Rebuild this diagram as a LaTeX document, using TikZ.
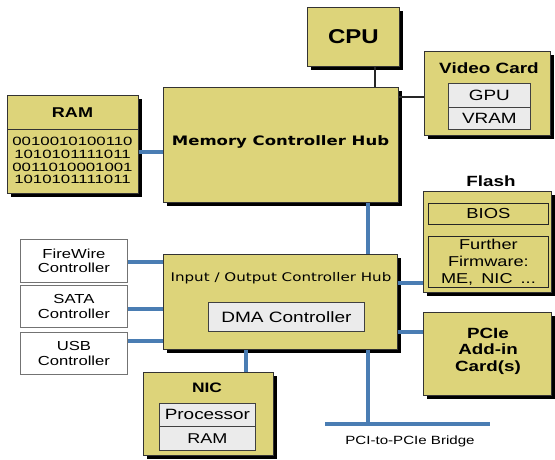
\documentclass[tikz,border=0pt]{standalone}
\usepackage{fontspec}
\setmainfont{Liberation Sans}[FakeStretch=1.27]
\newfontfamily\binfont{Liberation Sans}[FakeStretch=1.4]
\newfontfamily\cpuf{Liberation Sans}[FakeStretch=1.2]
\newfontfamily\dvs{DejaVu Sans}[FakeStretch=1.27]
\definecolor{boxyellow}{HTML}{DDD47A}
\definecolor{busblue}{HTML}{4A7DB3}
\definecolor{innergray}{HTML}{EBEBEB}
\newcommand{\fs}[1]{\fontsize{#1}{#1}\selectfont}
\newcommand{\fss}[2]{\fontsize{#1}{#2}\selectfont}
\begin{document}
\begin{tikzpicture}[x=1pt,y=-1pt,
  ybox/.style={fill=boxyellow,draw=black!80,line width=0.8pt,anchor=north west},
  shad/.style={fill=black},
  gbox/.style={fill=innergray,draw=black!75,line width=0.8pt,anchor=north west,inner sep=0pt},
  obox/.style={draw=black!85,line width=0.8pt,anchor=north west,inner sep=0pt},
  wbox/.style={fill=white,draw=black!55,line width=0.8pt,anchor=north west,inner sep=0pt,align=center,font=\fss{13.1}{14.5}},
  bus/.style={draw=busblue,line width=4.5pt},
  blk/.style={draw=black!85,line width=2.5pt},
  lbl/.style={inner sep=0pt,align=center}]
\useasboundingbox (0,0) rectangle (555,459);
% shadows
\foreach \a/\b/\c/\d in {307/7/399/66, 163/87/398/202, 424/51/550/135, 7/95/138/193, 163/254/397/349, 423/191/551/292, 143/372/273/455, 423/312/551/395}
  \fill[shad] (\a+4,\b+4) rectangle (\c+4,\d+4);
% CPU
\node[ybox,minimum width=92pt,minimum height=59pt] (cpu) at (307,7) {};
\node[lbl,font=\cpuf\bfseries\fs{20}] (cput) at (cpu.center) {CPU};
% MCH
\node[ybox,minimum width=235pt,minimum height=115pt] (mch) at (163,87) {};
\node[lbl,font=\dvs\bfseries\fs{13}] (mcht) at (280.5,142) {Memory Controller Hub};
% Video card
\node[ybox,minimum width=126pt,minimum height=84pt] (vid) at (424,51) {};
\node[lbl,font=\bfseries\fs{14.9}] (vidt) at (489,68) {Video Card};
\node[gbox,minimum width=82pt,minimum height=24pt,font=\fs{14.9}] (gpu) at (448,83) {GPU};
\node[gbox,minimum width=82pt,minimum height=22pt,font=\fs{14.9}] (vram) at (448,107) {VRAM};
% RAM
\node[ybox,minimum width=131pt,minimum height=98pt] (ram) at (7,95) {};
\draw[black!80,line width=0.8pt] (ram.west |- 0,129) -- (ram.east |- 0,129);
\node[lbl,font=\bfseries\fs{14.2}] (ramt) at (72.5,113) {RAM};
\node[lbl,font=\binfont\fss{12}{12.9}] (bits) at (72.5,160.5) {0010010100110\\1010101111011\\0011010001001\\1010101111011};
% ICH
\node[ybox,minimum width=234pt,minimum height=95pt] (ich) at (163,254) {};
\node[lbl,font=\dvs\fs{11.9}] (icht) at (281,278) {Input / Output Controller Hub};
\node[gbox,minimum width=156pt,minimum height=29pt,font=\fs{15}] (dma) at (208,302) {DMA Controller};
% Flash
\node[lbl,font=\bfseries\fs{14.8}] (flasht) at (491,181) {Flash};
\node[ybox,minimum width=128pt,minimum height=101pt] (flash) at (423,191) {};
\node[obox,minimum width=120pt,minimum height=21pt,font=\fs{14.5}] (bios) at (428,203) {BIOS};
\node[obox,minimum width=120pt,minimum height=51pt,align=center,font=\fss{14.3}{17}] (fw) at (428,236) {Further\\Firmware:\\ME,\hspace{3pt} NIC\hspace{3pt} ...};
% White controllers
\node[wbox,minimum width=107pt,minimum height=43pt] (fwc) at (20,239) {FireWire\\Controller};
\node[wbox,minimum width=107pt,minimum height=42pt] (sata) at (20,285) {SATA\\Controller};
\node[wbox,minimum width=107pt,minimum height=42pt] (usb) at (20,332) {USB\\Controller};
% NIC
\node[ybox,minimum width=130pt,minimum height=83pt] (nic) at (143,372) {};
\node[lbl,font=\bfseries\fs{13.7}] (nict) at (207,388) {NIC};
\node[gbox,minimum width=96pt,minimum height=23pt,font=\fs{14.9}] (proc) at (159,403) {Processor};
\node[gbox,minimum width=96pt,minimum height=24pt,font=\fs{14.2}] (nram) at (159,426) {RAM};
% PCIe
\node[ybox,minimum width=128pt,minimum height=83pt] (pcie) at (423,312) {};
\node[lbl,font=\bfseries\fss{14.8}{16.5}] (pciet) at (488,351) {PCIe\\Add-in\\Card(s)};
% bridge
\coordinate (brL) at (325,424);
\coordinate (brR) at (490,424);
\coordinate (brM) at (368,424);
\node[lbl,font=\fs{11.9}] (brlbl) at (410,441) {PCI-to-PCIe Bridge};
% connectors
\draw[blk] (cpu.south -| 375,0) -- (mch.north -| 375,0);
\draw[blk] (mch.east |- 0,97) -- (vid.west |- 0,97);
\draw[bus] (ram.east |- 0,152) -- (mch.west |- 0,152);
\draw[bus] (mch.south -| 368,0) -- (ich.north -| 368,0);
\draw[bus] (ich.east |- 0,283) -- (flash.west |- 0,283);
\draw[bus] (ich.east |- 0,332) -- (pcie.west |- 0,332);
\draw[bus] (fwc.east |- 0,262) -- (ich.west |- 0,262);
\draw[bus] (sata.east |- 0,309) -- (ich.west |- 0,309);
\draw[bus] (usb.east |- 0,341) -- (ich.west |- 0,341);
\draw[bus] (ich.south -| 246,0) -- (nic.north -| 246,0);
\draw[bus] (ich.south -| brM) -- (brM);
\draw[bus] (brL) -- (brR);
\end{tikzpicture}
\end{document}
